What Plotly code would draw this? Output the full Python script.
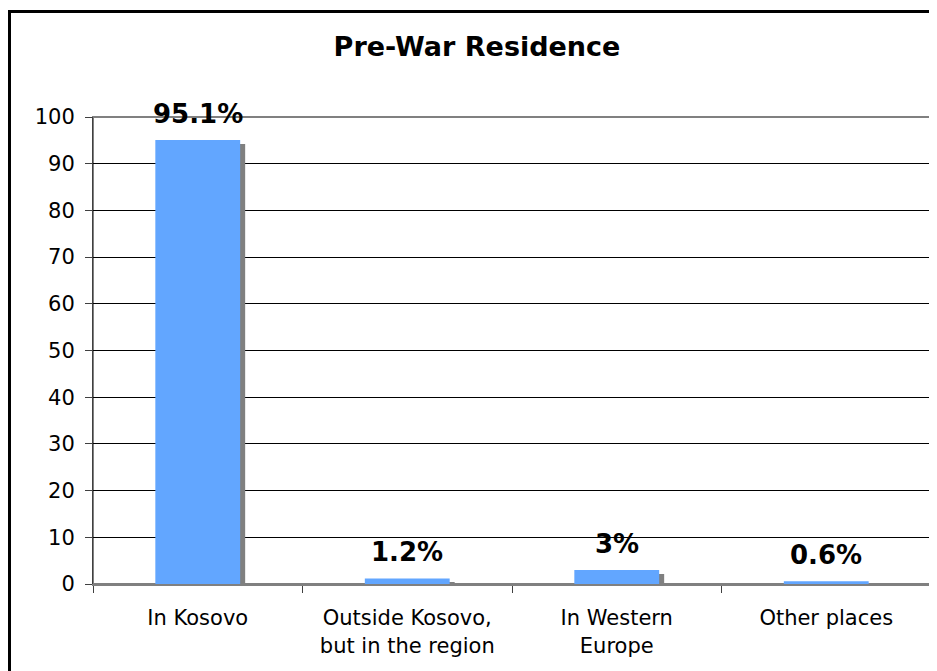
import plotly.graph_objects as go

# ---- data ----
categories = ["In Kosovo", "Outside Kosovo,<br>but in the region", "In Western<br>Europe", "Other places"]
values = [95.1, 1.2, 3, 0.6]
y_ticks = [0, 10, 20, 30, 40, 50, 60, 70, 80, 90, 100]
title_text = "Pre-War Residence"

# ---- geometry (page pixels; the html body adds an 8px margin) ----
PAGE_W, PAGE_H = 937, 671
OFF = 8
W, H = PAGE_W - OFF, PAGE_H - OFF
L, R, T, B = 93 - OFF, 931 - OFF, 117 - OFF, 584 - OFF
pw, ph = R - L, B - T

def px_x(x):
    return (x - OFF - L) / pw

def px_y(y):
    return (B - (y - OFF)) / ph

bar_w = 0.405
shadow_dx = 5 / pw * len(categories)  # category units
shadow_dy = 4 / ph * 100               # data units

BAR = "#62A6FF"
SHADOW = "#808080"
FONT = "DejaVu Sans"

fig = go.Figure()
fig.add_trace(go.Bar(
    x=categories, y=[v - shadow_dy for v in values],
    width=bar_w, offset=-bar_w / 2 + shadow_dx,
    marker=dict(color=SHADOW, line=dict(width=0)),
    hoverinfo="skip", showlegend=False,
))
fig.add_trace(go.Bar(
    x=categories, y=values,
    width=bar_w, offset=-bar_w / 2,
    marker=dict(color=BAR, line=dict(width=0)),
    showlegend=False,
))

for c, v in zip(categories, values):
    fig.add_annotation(
        x=c, y=v, xref="x", yref="y", text=f"<b>{v:g}%</b>",
        showarrow=False, yanchor="middle", yshift=26,
        font=dict(family=FONT, size=26, color="black"),
    )

# plot frame (gray) and outer border (black)
fig.add_shape(type="rect", xref="paper", yref="paper", x0=0, x1=1, y0=0, y1=1,
              line=dict(color="#808080", width=2), layer="below")
fig.add_shape(type="rect", xref="paper", yref="paper",
              x0=px_x(9.5), x1=px_x(PAGE_W + 20), y0=px_y(PAGE_H + 20), y1=px_y(11.5),
              line=dict(color="black", width=3), layer="above")

fig.update_layout(
    width=W, height=H,
    margin=dict(l=L, r=W - R, t=T, b=H - B, autoexpand=False),
    paper_bgcolor="white", plot_bgcolor="white",
    barmode="overlay",
    title=dict(text=f"<b>{title_text}</b>", x=(477 - OFF) / W, xref="container", xanchor="center",
               y=1 - (47 - OFF) / H, yref="container", yanchor="middle",
               font=dict(family=FONT, size=27, color="black")),
    xaxis=dict(
        showgrid=False, showline=True, linecolor="#808080", linewidth=2,
        ticks="outside", tickson="boundaries", ticklen=7, tickcolor="#404040", tickwidth=1,
        tickfont=dict(family=FONT, size=21, color="black"),
        ticklabelstandoff=14,
    ),
    yaxis=dict(
        range=[0, 100], tickvals=y_ticks, showgrid=True, gridcolor="black", gridwidth=1,
        zeroline=False, showline=True, linecolor="#404040", linewidth=1,
        ticks="outside", ticklen=7, tickcolor="#404040",
        tickfont=dict(family=FONT, size=21, color="black"),
        ticklabelstandoff=6,
    ),
    font=dict(family=FONT),
)

fig.write_html("out.html")
